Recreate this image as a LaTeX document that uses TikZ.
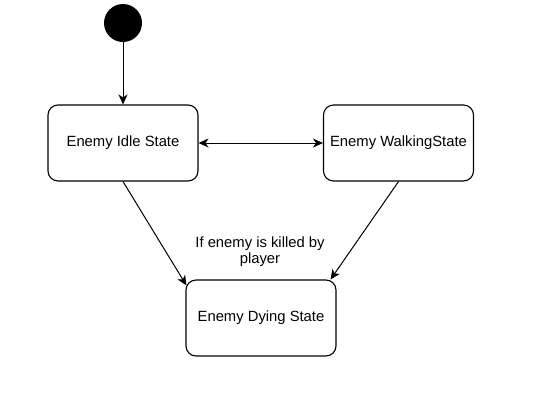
\documentclass[tikz,border=0pt]{standalone}
\usepackage{fontspec}
\setmainfont{Liberation Sans}
\usetikzlibrary{arrows.meta}

\begin{document}
\begin{tikzpicture}[x=1pt, y=-1pt,
	>={Stealth[length=10pt,width=9pt,inset=3pt]},
	statebox/.style={draw, line width=1.1pt, rounded corners=10pt,
		minimum width=150pt, minimum height=76pt, inner sep=0pt,
		font=\fontsize{14.8}{16}\selectfont},
	trans/.style={line width=1pt, ->}]
	\useasboundingbox (0,0) rectangle (557,408);
	\node [circle, fill=black, minimum size=38pt, inner sep=0pt] (start) at (123,23) {};
	\node [statebox] (idle) at (123,143) {Enemy Idle State};
	\node [statebox] (walking) at (398.5,143) {Enemy WalkingState};
	\node [statebox] (dying) at (261,318) {Enemy Dying State};
	\node [align=center, font=\fontsize{14.8}{16}\selectfont] (cond) at (260,252)
	{If enemy is killed by\\player};
	\draw [trans] (start) -- (idle.north);
	\draw [trans, <->] (idle.east) -- (walking.west);
	\draw [trans] (idle.south) -- ([shift={(1pt,-6pt)}]dying.north west);
	\draw [trans] (walking.south) -- ([shift={(-6pt,0pt)}]dying.north east);
\end{tikzpicture}
\end{document}
